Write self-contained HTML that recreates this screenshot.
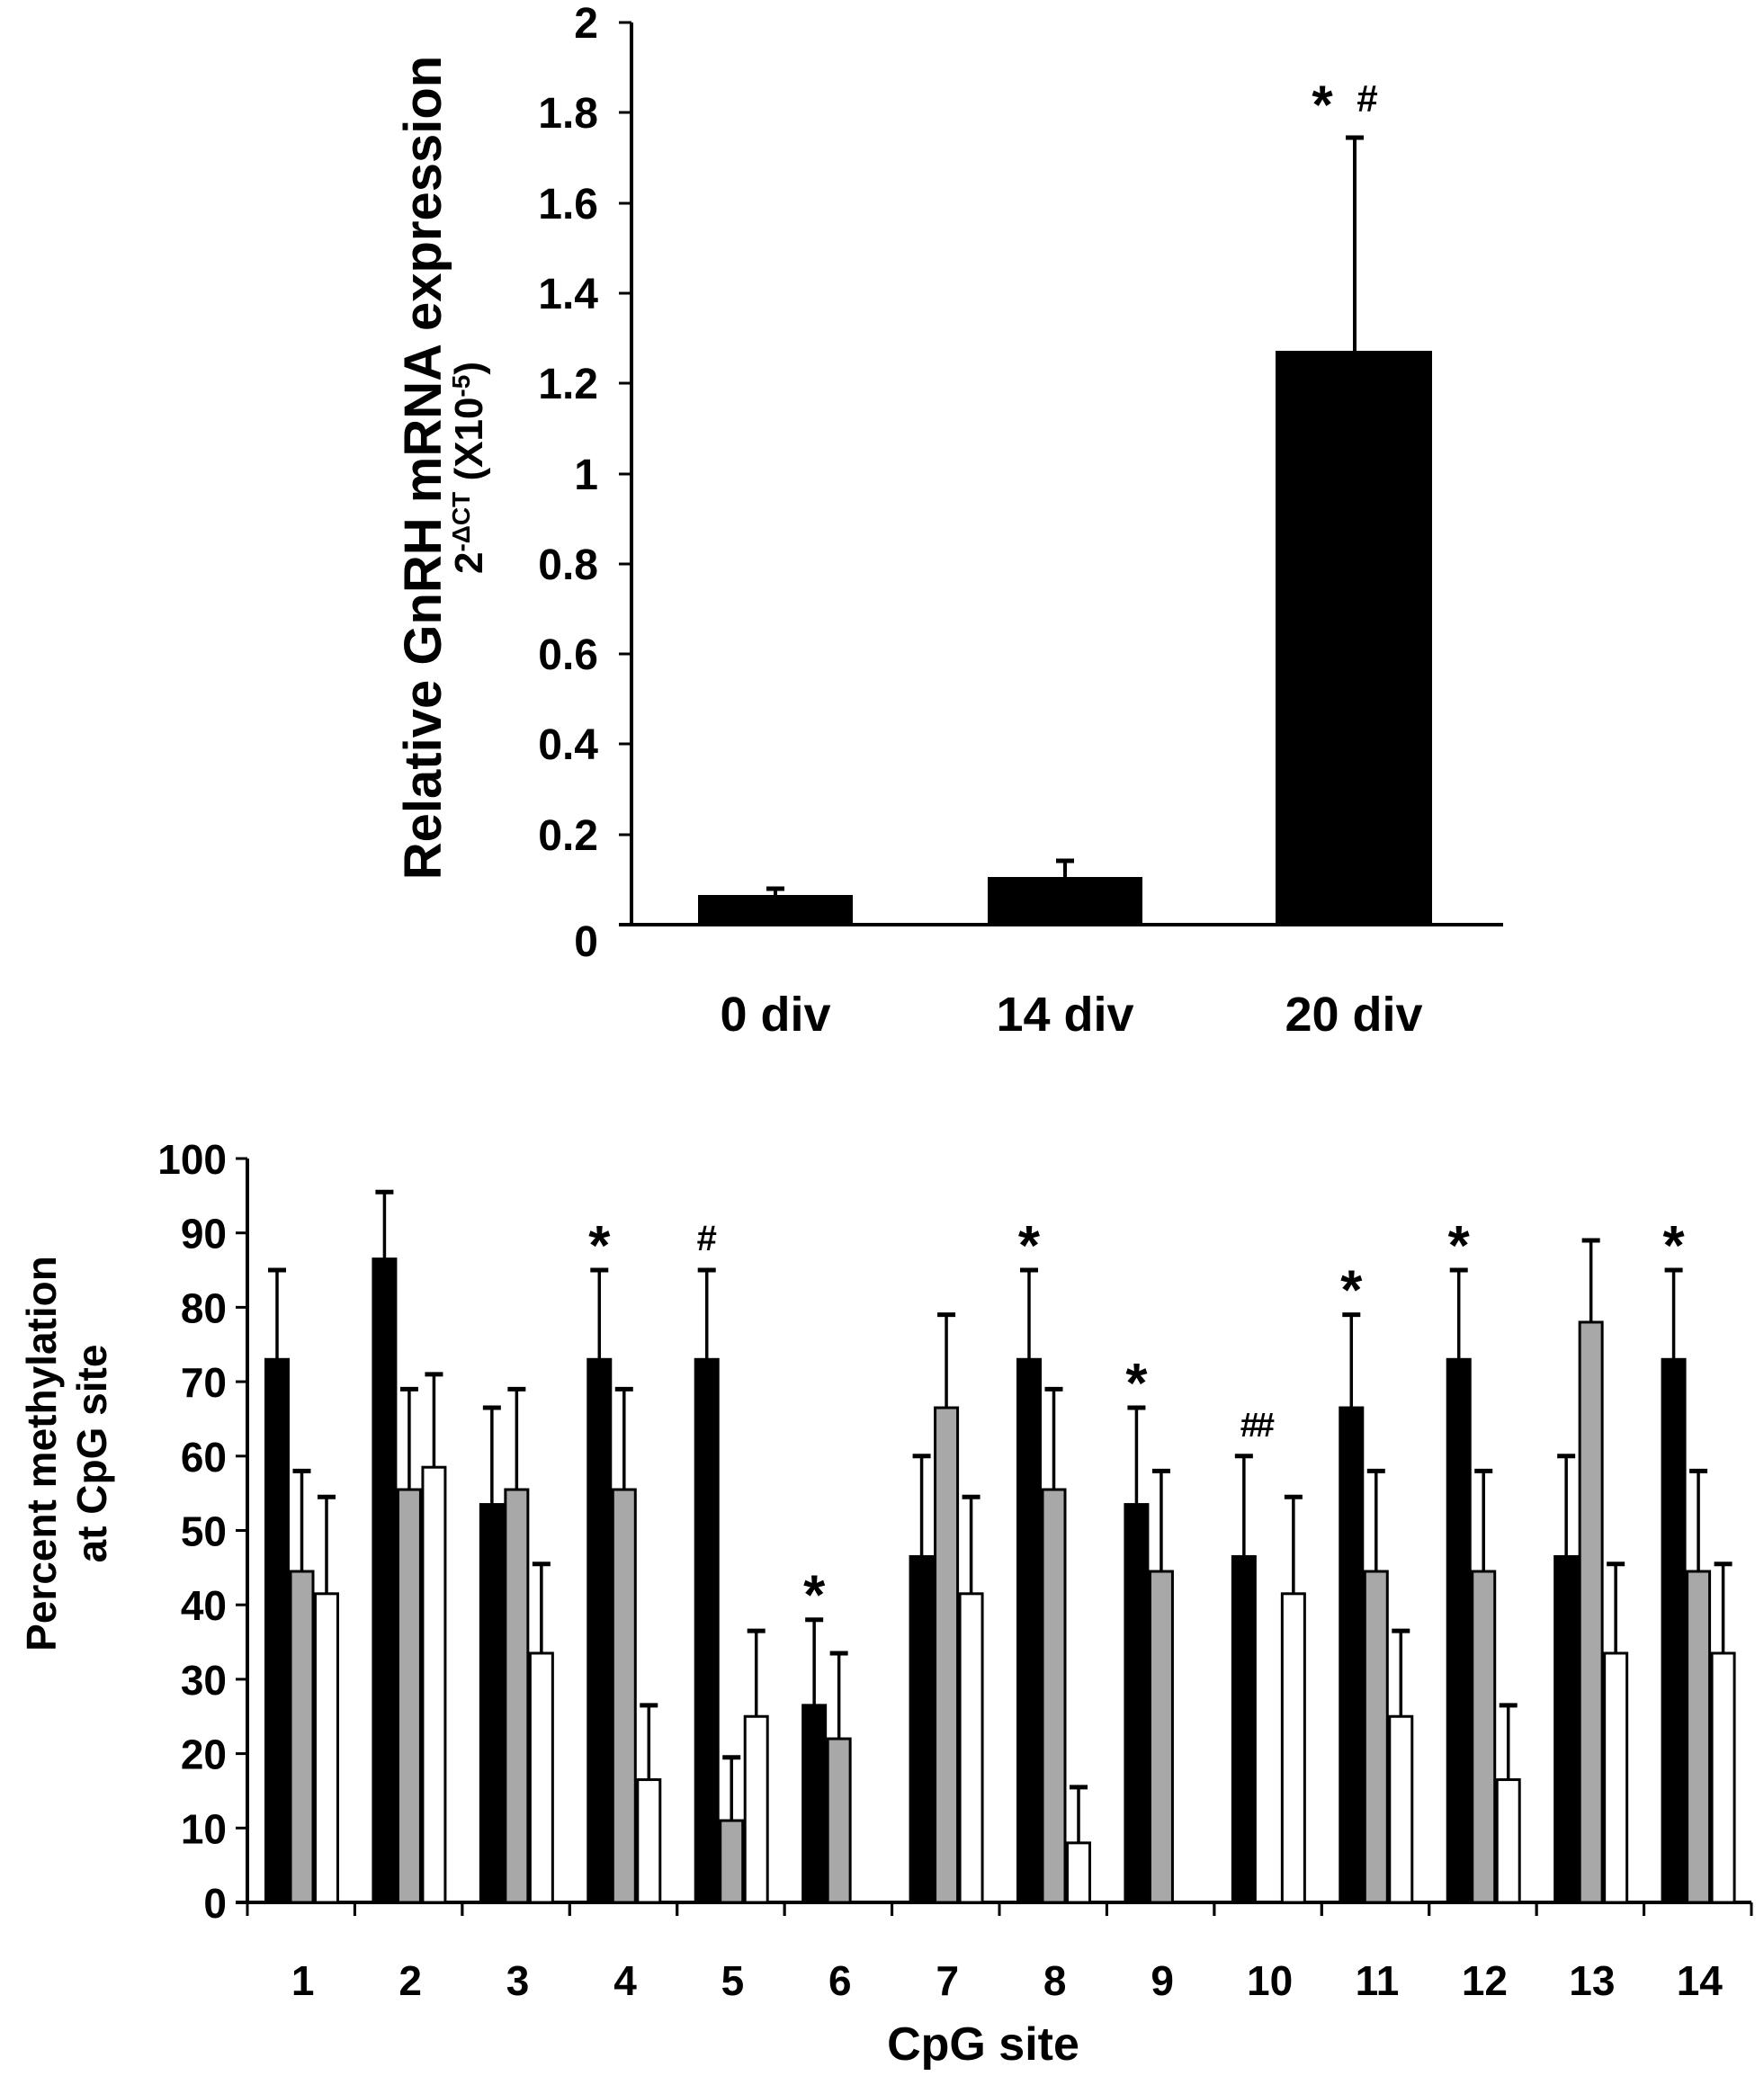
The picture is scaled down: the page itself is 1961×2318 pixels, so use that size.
<!DOCTYPE html>
<html><head><meta charset="utf-8"><style>
html,body{margin:0;padding:0;background:#fff;}
svg{display:block;}
.n{font-family:"Liberation Sans Narrow","Liberation Sans",sans-serif;font-weight:bold;}
.a{font-family:"Liberation Sans",sans-serif;font-weight:bold;}
</style></head><body>
<svg width="1961" height="2318" viewBox="0 0 1961 2318" xmlns="http://www.w3.org/2000/svg">
<!-- TOP CHART -->
<g stroke="#000" stroke-width="4">
<line x1="702" y1="25" x2="702" y2="1028"/>
<line x1="688" y1="1028" x2="1671" y2="1028"/>
</g>
<g stroke="#000" stroke-width="3">
<line x1="688" y1="25" x2="702" y2="25"/>
<line x1="688" y1="125" x2="702" y2="125"/>
<line x1="688" y1="226" x2="702" y2="226"/>
<line x1="688" y1="326" x2="702" y2="326"/>
<line x1="688" y1="426" x2="702" y2="426"/>
<line x1="688" y1="527" x2="702" y2="527"/>
<line x1="688" y1="627" x2="702" y2="627"/>
<line x1="688" y1="727" x2="702" y2="727"/>
<line x1="688" y1="827" x2="702" y2="827"/>
<line x1="688" y1="928" x2="702" y2="928"/>
</g>
<g class="n" font-size="48" text-anchor="end">
<text x="665" y="42">2</text>
<text x="665" y="142">1.8</text>
<text x="665" y="243">1.6</text>
<text x="665" y="343">1.4</text>
<text x="665" y="443">1.2</text>
<text x="665" y="544">1</text>
<text x="665" y="644">0.8</text>
<text x="665" y="744">0.6</text>
<text x="665" y="844">0.4</text>
<text x="665" y="945">0.2</text>
<text x="665" y="1063">0</text>
</g>
<!-- bars -->
<rect x="776" y="995" width="172" height="33" fill="#000"/>
<line x1="862" y1="995" x2="862" y2="988" stroke="#000" stroke-width="4"/>
<line x1="852" y1="988" x2="872" y2="988" stroke="#000" stroke-width="5"/>
<rect x="1098" y="975" width="172" height="53" fill="#000"/>
<line x1="1184" y1="975" x2="1184" y2="957" stroke="#000" stroke-width="4"/>
<line x1="1174" y1="957" x2="1194" y2="957" stroke="#000" stroke-width="5"/>
<rect x="1418" y="390" width="174" height="638" fill="#000"/>
<line x1="1506" y1="390" x2="1506" y2="153" stroke="#000" stroke-width="4"/>
<line x1="1496" y1="153" x2="1516" y2="153" stroke="#000" stroke-width="5"/>
<text class="a" x="1470" y="137" font-size="60" text-anchor="middle">*</text>
<text class="n" x="1520" y="124" font-size="42" text-anchor="middle">#</text>
<g class="n" font-size="54" text-anchor="middle">
<text x="862" y="1146">0 div</text>
<text x="1184" y="1146">14 div</text>
<text x="1505" y="1146">20 div</text>
</g>
<text class="a" font-size="58" text-anchor="middle" transform="translate(490,520) rotate(-90)">Relative GnRH mRNA expression</text>
<text class="a" font-size="44" text-anchor="middle" transform="translate(536,520) rotate(-90)">2<tspan font-size="28" dy="-14">-ΔCT</tspan><tspan dy="14"> (X10</tspan><tspan font-size="28" dy="-14">-5</tspan><tspan dy="14">)</tspan></text>

<!-- BOTTOM CHART -->
<g stroke="#000" stroke-width="4">
<line x1="275" y1="1288" x2="275" y2="2115"/>
<line x1="262" y1="2115" x2="1947" y2="2115"/>
</g>
<g id="bot"></g>
<g class="a" font-size="46" text-anchor="middle">
<text transform="translate(62,1616) rotate(-90)">Percent methylation</text>
<text transform="translate(118,1616) rotate(-90)">at CpG site</text>
</g>
<text class="n" x="1093" y="2290" font-size="52" text-anchor="middle">CpG site</text>
<script>
(function(){
var NS="http://www.w3.org/2000/svg";
function el(p,t,a,txt){var e=document.createElementNS(NS,t);for(var k in a)e.setAttribute(k,a[k]);if(txt!==undefined)e.textContent=txt;p.appendChild(e);return e;}
var g=document.getElementById('bot');
var y0=2115,k=8.27;
function Y(v){return y0-v*k;}
for(var v=0;v<=100;v+=10){
 el(g,'line',{x1:262,y1:Y(v),x2:275,y2:Y(v),stroke:'#000','stroke-width':3});
 el(g,'text',{x:252,y:Y(v)+17,'font-size':46,'text-anchor':'end','class':'n'},String(v));
}
var d=[[73,85,44.5,58,41.5,54.5],[86.5,95.5,55.5,69,58.5,71],[53.5,66.5,55.5,69,33.5,45.5],[73,85,55.5,69,16.5,26.5],[73,85,11,19.5,25,36.5],[26.5,38,22,33.5,0,0],[46.5,60,66.5,79,41.5,54.5],[73,85,55.5,69,8,15.5],[53.5,66.5,44.5,58,0,0],[46.5,60,0,0,41.5,54.5],[66.5,79,44.5,58,25,36.5],[73,85,44.5,58,16.5,26.5],[46.5,60,78,89,33.5,45.5],[73,85,44.5,58,33.5,45.5]];
var gw=(1947-275)/14, fills=['#000','#a8a8a8','#fff'];
for(var i=0;i<14;i++){
 var gx=275+gw*i;
 el(g,'line',{x1:gx+gw,y1:2115,x2:gx+gw,y2:2130,stroke:'#000','stroke-width':3});
 el(g,'line',{x1:gx,y1:2115,x2:gx,y2:2130,stroke:'#000','stroke-width':3});
 for(var j=0;j<3;j++){
  var v=d[i][2*j],e=d[i][2*j+1],x=gx+19+j*27.5;
  if(v>0){
   el(g,'rect',{x:x+1.5,y:Y(v),width:25,height:v*k,fill:fills[j],stroke:'#000','stroke-width':3});
   var cx=x+14;
   el(g,'line',{x1:cx,y1:Y(v),x2:cx,y2:Y(e),stroke:'#000','stroke-width':3.5});
   el(g,'line',{x1:cx-10,y1:Y(e),x2:cx+10,y2:Y(e),stroke:'#000','stroke-width':5});
  }
 }
 el(g,'text',{x:gx+gw/2+2,y:2218,'font-size':46,'text-anchor':'middle','class':'n'},String(i+1));
}
var stars={3:85,5:38,7:85,8:66.5,10:79,11:85,13:85};
for(var s in stars){var gx=275+gw*s;el(g,'text',{x:gx+33,y:Y(stars[s])-6,'font-size':62,'text-anchor':'middle','class':'a'},'*');}
var gx4=275+gw*4;el(g,'text',{x:gx4+33,y:Y(85)-22,'font-size':40,'text-anchor':'middle','class':'n'},'#');
var gx9=275+gw*9;el(g,'text',{x:gx9+46,y:Y(60)-22,'font-size':38,'text-anchor':'middle','class':'n','letter-spacing':'-4'},'##');
})();
</script>
</svg>
</body></html>
